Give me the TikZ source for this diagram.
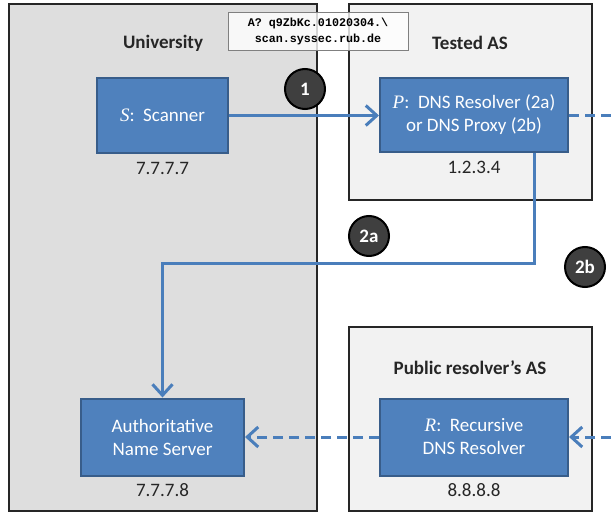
\documentclass[tikz,border=0pt]{standalone}
\usepackage{fontspec}
\setmainfont{Carlito}
\newfontfamily\monofont{Liberation Mono}
\newfontfamily\varfont{Liberation Serif}
\usetikzlibrary{positioning,arrows.meta}

\definecolor{boxblue}{HTML}{4F81BD}
\definecolor{boxedge}{HTML}{385D8A}
\definecolor{lineblue}{HTML}{4A7EBB}
\definecolor{uni}{HTML}{DEDEDE}
\definecolor{asgrey}{HTML}{F2F2F2}
\definecolor{badgegrey}{HTML}{3F3F3F}
\definecolor{ink}{HTML}{262626}

\begin{document}
\begin{tikzpicture}[x=1pt,y=-1pt,
  region/.style={draw=ink,line width=1.5pt},
  title/.style={font=\fontsize{19}{23}\selectfont\bfseries,text=ink},
  server/.style={draw=boxedge,line width=2pt,fill=boxblue,text=white,align=center,
    font=\fontsize{19}{23}\selectfont},
  addr/.style={font=\fontsize{19}{23}\selectfont,text=ink,inner sep=2pt},
  flow/.style={draw=lineblue,line width=3pt,-{Straight Barb[length=11pt,width=20pt]}},
  flowdash/.style={flow,dash pattern=on 10pt off 6pt},
  badge/.style={circle,draw=black,line width=2pt,fill=badgegrey,text=white,
    minimum size=40pt,inner sep=0pt,font=\fontsize{19}{23}\selectfont\bfseries}]
\useasboundingbox (0,0) rectangle (611,514);

% Draw the three networks
\draw[region,fill=uni] (9,4) rectangle (317,511);
\draw[region,fill=asgrey] (349,4) rectangle (592,200);
\draw[region,fill=asgrey] (349,327) rectangle (592,511);
\node[title] (tUni) at (163,43) {University};
\node[title] (tTested) at (470,43) {Tested AS};
\node[title] (tPublic) at (470,368) {Public resolver’s AS};

% Define the hosts
\node[server,minimum width=131pt,minimum height=75pt] (scanner) at (162.5,115.5)
  {{\varfont\itshape S}:\ \ Scanner};
\node[server,minimum width=188pt,minimum height=74pt] (proxy) at (474,115)
  {{\varfont\itshape P}:\ \ DNS Resolver (2a)\\or DNS Proxy (2b)};
\node[server,minimum width=163pt,minimum height=77pt] (auth) at (162.5,437)
  {Authoritative\\Name Server};
\node[server,minimum width=188pt,minimum height=77pt] (recur) at (474,437)
  {{\varfont\itshape R}:\ \ Recursive\\DNS Resolver};
\node[addr,below=6pt of scanner] (ipS) {7.7.7.7};
\node[addr,below=6pt of proxy] (ipP) {1.2.3.4};
\node[addr,below=5pt of auth] (ipA) {7.7.7.8};
\node[addr,below=5pt of recur] (ipR) {8.8.8.8};

% Draw the query paths
\coordinate (outP) at (611,115);
\coordinate (inR) at (611,437);
\coordinate (turn) at (534,263);
\draw[flow] (scanner.east) -- (scanner.east -| proxy.west);
\draw[flowdash,-] (proxy.east) -- (outP);
\draw[flow] ([xshift=60pt]proxy.south) -- (turn) -| (auth.north);
\draw[flowdash] (recur) -- (auth);
\draw[flowdash] (inR) -- (recur);

% The query label
\node[draw=gray,line width=1pt,fill=white,fill opacity=0.8,text opacity=1,
  align=center,minimum width=180pt,minimum height=38pt,
  font=\monofont\bfseries\fontsize{11.7}{16}\selectfont] (query) at (318,31)
  {A? q9ZbKc.01020304.\textbackslash\\scan.syssec.rub.de};

% Draw the step markers
\foreach \n/\lab/\p in {1/1/{305,89},2/2a/{369,236},3/2b/{585,267}}
    \node[badge] (step\n) at (\p) {\lab};
\end{tikzpicture}
\end{document}
